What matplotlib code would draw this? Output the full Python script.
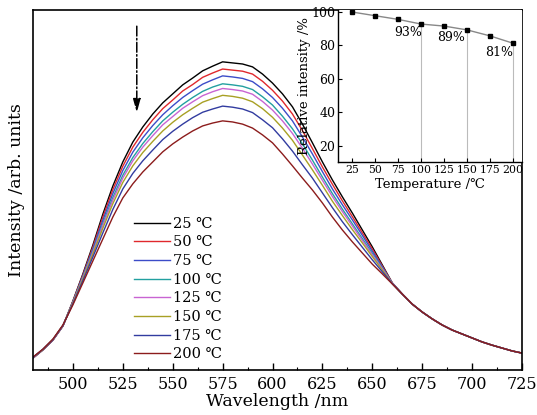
import matplotlib
matplotlib.use("Agg")
import matplotlib.pyplot as plt
from matplotlib.ticker import MultipleLocator

plt.rcParams['font.family'] = ['DejaVu Serif', 'DejaVu Sans']
plt.rcParams['mathtext.fontset'] = 'dejavuserif'

# ---------------- data ----------------
wavelength = [480, 485, 490, 495, 500, 505, 510, 515, 520, 525, 530, 535, 540, 545,
              550, 555, 560, 565, 570, 575, 580, 585, 590, 595, 600, 605, 610, 615,
              620, 625, 630, 635, 640, 645, 650, 655, 660, 665, 670, 675, 680, 685,
              690, 695, 700, 705, 710, 715, 720, 725]

tail = [21.1, 18.3, 16.1, 14.2, 12.5, 11.1, 10.0, 8.9, 7.8, 6.9, 6.1, 5.3, 4.7]

i_25 = [3.3, 5.6, 8.3, 12.2, 19.2, 26.7, 34.7, 43.3, 51.1, 57.8, 63.3, 67.5, 71.1, 74.2,
        76.7, 79.2, 81.1, 83.1, 84.4, 85.6, 85.3, 85.0, 84.2, 82.2, 79.7, 76.7, 73.1, 68.3,
        63.1, 57.8, 52.8, 48.1, 43.6, 38.9, 34.2, 29.2, 24.2] + tail
i_50 = [3.3, 5.6, 8.3, 12.2, 19.1, 26.4, 34.2, 42.5, 50.1, 56.6, 61.9, 66.0, 69.5, 72.6,
        75.0, 77.5, 79.3, 81.3, 82.5, 83.6, 83.3, 83.0, 82.2, 80.2, 77.7, 74.7, 71.1, 66.5,
        61.5, 56.4, 51.6, 47.0, 42.6, 38.1, 33.6, 28.9, 24.2] + tail
i_75 = [3.4, 5.6, 8.4, 12.3, 18.9, 26.1, 33.6, 41.6, 49.0, 55.4, 60.5, 64.5, 67.9, 70.9,
        73.4, 75.7, 77.6, 79.4, 80.6, 81.7, 81.4, 81.0, 80.1, 78.1, 75.7, 72.7, 69.2, 64.7,
        60.0, 55.1, 50.3, 45.9, 41.7, 37.4, 33.0, 28.6, 24.1] + tail
i_100 = [3.4, 5.7, 8.4, 12.3, 18.8, 25.8, 33.1, 40.7, 47.9, 54.1, 59.0, 62.9, 66.2, 69.2,
         71.6, 73.8, 75.7, 77.4, 78.6, 79.5, 79.2, 78.8, 77.9, 75.9, 73.6, 70.5, 67.0, 62.8,
         58.3, 53.6, 49.0, 44.7, 40.6, 36.5, 32.4, 28.3, 24.1] + tail
i_125 = [3.4, 5.7, 8.4, 12.3, 18.7, 25.6, 32.7, 40.2, 47.2, 53.3, 58.1, 61.9, 65.1, 68.1,
         70.4, 72.7, 74.5, 76.2, 77.3, 78.2, 77.9, 77.5, 76.6, 74.6, 72.2, 69.2, 65.7, 61.6,
         57.2, 52.7, 48.2, 44.0, 40.0, 36.0, 32.0, 28.1, 24.1] + tail
i_150 = [3.5, 5.7, 8.5, 12.4, 18.6, 25.3, 32.2, 39.4, 46.2, 52.1, 56.7, 60.4, 63.5, 66.4,
         68.8, 70.9, 72.7, 74.4, 75.4, 76.3, 76.0, 75.5, 74.5, 72.6, 70.2, 67.2, 63.8, 59.7,
         55.6, 51.3, 46.9, 42.9, 39.0, 35.3, 31.5, 27.8, 24.0] + tail
i_175 = [3.5, 5.8, 8.5, 12.4, 18.4, 24.8, 31.4, 38.1, 44.6, 50.3, 54.6, 58.1, 61.1, 64.0,
         66.3, 68.3, 70.1, 71.6, 72.5, 73.3, 73.0, 72.5, 71.5, 69.5, 67.3, 64.2, 60.8, 57.0,
         53.3, 49.2, 45.1, 41.2, 37.6, 34.1, 30.6, 27.3, 24.0] + tail
i_200 = [3.6, 5.8, 8.6, 12.5, 18.1, 24.2, 30.3, 36.4, 42.5, 47.8, 51.7, 55.0, 57.8, 60.6,
         62.8, 64.7, 66.4, 67.8, 68.6, 69.2, 68.9, 68.3, 67.2, 65.3, 63.1, 60.0, 56.7, 53.3,
         50.0, 46.4, 42.5, 38.9, 35.6, 32.5, 29.4, 26.7, 23.9] + tail

series = [i_25, i_50, i_75, i_100, i_125, i_150, i_175, i_200]
labels = ['25 \u2103', '50 \u2103', '75 \u2103', '100 \u2103', '125 \u2103',
          '150 \u2103', '175 \u2103', '200 \u2103']
colors = ['#000000', '#e0282c', '#3c4cc8', '#22a0a0', '#c864d2', '#a8a024',
          '#323ca0', '#8c1c1c']

temperature = [25, 50, 75, 100, 125, 150, 175, 200]
relative = [100, 97.8, 95.6, 92.8, 91.6, 89.3, 85.7, 81.3]
marked_temps = [100, 150, 200]
marked_vals = [92.8, 89.3, 81.3]
marked_text = ['93%', '89%', '81%']
text_pos = [(86, 87.5), (133, 84.5), (185, 76)]

# ---------------- figure ----------------
fig = plt.figure(figsize=(5.37, 4.15), dpi=100)
ax = fig.add_axes([33/537, 1-370/415, (522-33)/537, (370-10)/415])

for y, lab, c in zip(series, labels, colors):
    ax.plot(wavelength, y, color=c, lw=1.0, label=lab)

ax.set_xlim(480, 725)
ax.set_ylim(0, 100)
ax.xaxis.set_major_locator(MultipleLocator(25))
ax.xaxis.set_minor_locator(MultipleLocator(12.5))
ax.tick_params(axis='x', which='major', direction='in', length=5, width=1,
               labelsize=11.5, pad=4)
ax.tick_params(axis='x', which='minor', direction='in', length=2.5, width=0.8)
ax.set_yticks([])
for s in ax.spines.values():
    s.set_linewidth(1.2)
ax.set_xlabel('Wavelength /nm', fontsize=12.5, labelpad=0)
ax.set_ylabel('Intensity /arb. units', fontsize=12.5, labelpad=6)

# dash-dot arrow
ax.annotate('', xy=(532, 71.5), xytext=(532, 95.5),
            arrowprops=dict(arrowstyle='-|>,head_length=0.8,head_width=0.22',
                            linestyle='-.', color='black', lw=1.1,
                            shrinkA=0, shrinkB=0))

leg = ax.legend(loc='lower left', bbox_to_anchor=(0.206, 0.024), frameon=False,
                fontsize=10.5, handlelength=2.5, handletextpad=0.2,
                labelspacing=0.32, borderpad=0, borderaxespad=0)

# ---------------- inset ----------------
axi = fig.add_axes([338/537, 1-162/415, (522-338)/537, (162-10)/415])
axi.set_facecolor('white')
axi.plot(temperature, relative, color='#888888', lw=1.0, marker='s', ms=3,
         mfc='black', mec='black', zorder=3)
for t, v in zip(marked_temps, marked_vals):
    axi.plot([t, t], [0, v], color='#bbbbbb', lw=0.8, zorder=1)
for (tx, ty), s in zip(text_pos, marked_text):
    axi.text(tx, ty, s, fontsize=9, ha='center', va='center')
axi.set_xlim(9.8, 209.5)
axi.set_ylim(10.4, 101.2)
axi.set_xticks(temperature)
axi.set_yticks([20, 40, 60, 80, 100])
axi.tick_params(direction='in', length=3, width=0.8, pad=2)
axi.tick_params(axis='x', labelsize=7.8)
axi.tick_params(axis='y', labelsize=9)
axi.spines['top'].set_visible(False)
axi.spines['right'].set_visible(False)
axi.spines['left'].set_linewidth(1.0)
axi.spines['bottom'].set_linewidth(1.0)
axi.set_xlabel('Temperature /\u2103', fontsize=9.5, labelpad=2)
axi.set_ylabel('Relative intensity /%', fontsize=9.5, labelpad=0)

fig.savefig('out.png', dpi=100)
